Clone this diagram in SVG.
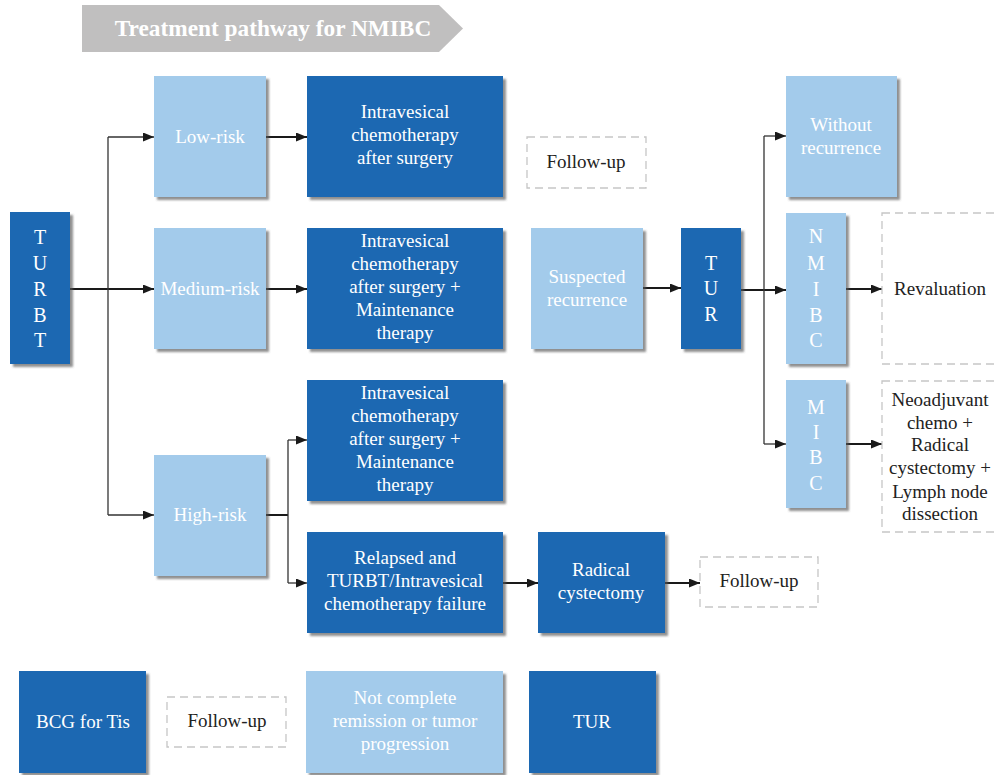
<svg xmlns="http://www.w3.org/2000/svg" width="994" height="775" viewBox="0 0 994 775">
<style>
.dk{fill:#1f68b2;filter:url(#sh)}
.lt{fill:#a3cbeb;filter:url(#sh)}
.ds{fill:#fff;stroke:#c6c6c6;stroke-width:1.3;stroke-dasharray:8 5}
text{font-family:"Liberation Serif","Times New Roman",serif;font-size:19px;text-anchor:middle}
.w{fill:#fff}
.b{fill:#222}
.ln{fill:none;stroke:#1a1a1a;stroke-width:2}
.th{fill:none;stroke:#333;stroke-width:1.3}
</style>
<defs>
<filter id="sh" x="-10%" y="-10%" width="130%" height="130%">
<feDropShadow dx="3" dy="3" stdDeviation="1.3" flood-color="#555" flood-opacity="0.65"/>
</filter>
<marker id="ar" markerUnits="userSpaceOnUse" markerWidth="12" markerHeight="10" refX="11" refY="4.5" orient="auto">
<path d="M0,0 L11,4.5 L0,9 Z" fill="#1a1a1a"/>
</marker>
</defs>

<g id="title">
<polygon points="82,5 439,5 463,28.5 439,52 82,52" fill="#c0bfbf"/>
<text x="273" y="36" class="w" style="font-size:23.3px;font-weight:bold">Treatment pathway for NMIBC</text>
</g>

<g id="connectors">
<path class="ln" d="M70,289 H154" marker-end="url(#ar)"/>
<path class="th" d="M108,137 V515"/>
<path class="th" d="M108,137 H154" marker-end="url(#ar)"/>
<path class="th" d="M108,515 H154" marker-end="url(#ar)"/>
<path class="ln" d="M266,137 H307" marker-end="url(#ar)"/>
<path class="ln" d="M266,289 H307" marker-end="url(#ar)"/>
<path class="ln" d="M266,515 H288"/>
<path class="th" d="M288,440 V583"/>
<path class="th" d="M288,440 H307" marker-end="url(#ar)"/>
<path class="th" d="M288,583 H307" marker-end="url(#ar)"/>
<path class="ln" d="M503,583 H538" marker-end="url(#ar)"/>
<path class="ln" d="M665,583 H700" marker-end="url(#ar)"/>
<path class="ln" d="M643,288 H681" marker-end="url(#ar)"/>
<path class="ln" d="M741,290 H786" marker-end="url(#ar)"/>
<path class="th" d="M764,136 V444"/>
<path class="th" d="M764,136 H786" marker-end="url(#ar)"/>
<path class="th" d="M764,444 H786" marker-end="url(#ar)"/>
<path class="ln" d="M846,289 H882" marker-end="url(#ar)"/>
<path class="ln" d="M846,444 H882" marker-end="url(#ar)"/>
</g>

<g id="turbt">
<rect class="dk" x="10" y="212" width="60" height="152"/>
<text class="w" style="font-size:20px"><tspan x="40" y="244">T</tspan><tspan x="40" y="270">U</tspan><tspan x="40" y="296">R</tspan><tspan x="40" y="322">B</tspan><tspan x="40" y="347">T</tspan></text>
</g>

<g id="low-risk">
<rect class="lt" x="154" y="76" width="112" height="121"/>
<text class="w" x="210" y="143">Low-risk</text>
</g>
<g id="medium-risk">
<rect class="lt" x="154" y="228" width="112" height="121"/>
<text class="w" x="210" y="295">Medium-risk</text>
</g>
<g id="high-risk">
<rect class="lt" x="154" y="455" width="112" height="121"/>
<text class="w" x="210" y="521">High-risk</text>
</g>

<g id="intravesical-low">
<rect class="dk" x="307" y="76" width="196" height="121"/>
<text class="w"><tspan x="405" y="118">Intravesical</tspan><tspan x="405" y="141">chemotherapy</tspan><tspan x="405" y="164">after surgery</tspan></text>
</g>
<g id="intravesical-medium">
<rect class="dk" x="307" y="228" width="196" height="121"/>
<text class="w"><tspan x="405" y="247">Intravesical</tspan><tspan x="405" y="270">chemotherapy</tspan><tspan x="405" y="293">after surgery +</tspan><tspan x="405" y="316">Maintenance</tspan><tspan x="405" y="339">therapy</tspan></text>
</g>
<g id="intravesical-high">
<rect class="dk" x="307" y="380" width="196" height="121"/>
<text class="w"><tspan x="405" y="399">Intravesical</tspan><tspan x="405" y="422">chemotherapy</tspan><tspan x="405" y="445">after surgery +</tspan><tspan x="405" y="468">Maintenance</tspan><tspan x="405" y="491">therapy</tspan></text>
</g>
<g id="relapsed">
<rect class="dk" x="307" y="532" width="196" height="101"/>
<text class="w"><tspan x="405" y="564">Relapsed and</tspan><tspan x="405" y="587">TURBT/Intravesical</tspan><tspan x="405" y="610">chemotherapy failure</tspan></text>
</g>
<g id="radical-cystectomy">
<rect class="dk" x="538" y="532" width="127" height="101"/>
<text class="w"><tspan x="601" y="576">Radical</tspan><tspan x="601" y="599">cystectomy</tspan></text>
</g>
<g id="followup-radical">
<rect class="ds" x="700" y="557" width="118" height="50"/>
<text class="b" x="759" y="587">Follow-up</text>
</g>

<g id="followup-top">
<rect class="ds" x="527" y="137" width="119" height="51"/>
<text class="b" x="586" y="168">Follow-up</text>
</g>
<g id="suspected-recurrence">
<rect class="lt" x="531" y="228" width="112" height="121"/>
<text class="w"><tspan x="587" y="283">Suspected</tspan><tspan x="587" y="306">recurrence</tspan></text>
</g>
<g id="tur">
<rect class="dk" x="681" y="228" width="60" height="121"/>
<text class="w" style="font-size:20px"><tspan x="711" y="270">T</tspan><tspan x="711" y="295">U</tspan><tspan x="711" y="321">R</tspan></text>
</g>

<g id="without-recurrence">
<rect class="lt" x="786" y="76" width="111" height="121"/>
<text class="w"><tspan x="841" y="131">Without</tspan><tspan x="841" y="154">recurrence</tspan></text>
</g>
<g id="nmibc">
<rect class="lt" x="786" y="213" width="60" height="151"/>
<text class="w" style="font-size:20px"><tspan x="816" y="243">N</tspan><tspan x="816" y="270">M</tspan><tspan x="816" y="296">I</tspan><tspan x="816" y="322">B</tspan><tspan x="816" y="347">C</tspan></text>
</g>
<g id="mibc">
<rect class="lt" x="786" y="380" width="60" height="128"/>
<text class="w" style="font-size:20px"><tspan x="816" y="414">M</tspan><tspan x="816" y="439">I</tspan><tspan x="816" y="464">B</tspan><tspan x="816" y="490">C</tspan></text>
</g>
<g id="revaluation">
<rect class="ds" x="882" y="213" width="130" height="151"/>
<text class="b" x="940" y="295">Revaluation</text>
</g>
<g id="neoadjuvant">
<rect class="ds" x="882" y="381" width="130" height="151"/>
<text class="b"><tspan x="940" y="406">Neoadjuvant</tspan><tspan x="940" y="429">chemo +</tspan><tspan x="940" y="451">Radical</tspan><tspan x="940" y="474">cystectomy +</tspan><tspan x="940" y="498">Lymph node</tspan><tspan x="940" y="520">dissection</tspan></text>
</g>

<g id="bcg">
<rect class="dk" x="19" y="671" width="127" height="102"/>
<text class="w" x="83" y="728">BCG for Tis</text>
</g>
<g id="followup-bcg">
<rect class="ds" x="167" y="697" width="119" height="50"/>
<text class="b" x="227" y="727">Follow-up</text>
</g>
<g id="not-complete">
<rect class="lt" x="306" y="671" width="197" height="102"/>
<text class="w"><tspan x="405" y="704">Not complete</tspan><tspan x="405" y="727">remission or tumor</tspan><tspan x="405" y="750">progression</tspan></text>
</g>
<g id="tur-bottom">
<rect class="dk" x="529" y="671" width="127" height="102"/>
<text class="w" x="592" y="728">TUR</text>
</g>
</svg>
